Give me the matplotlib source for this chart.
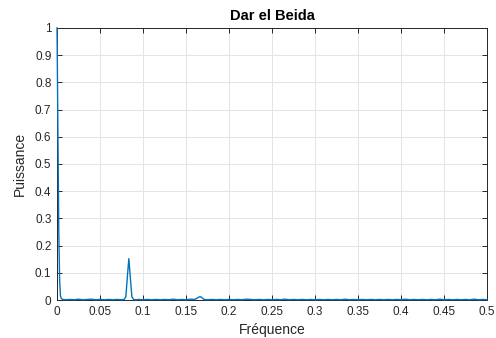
import matplotlib
matplotlib.use('Agg')
import matplotlib.pyplot as plt

# spectrum of the monthly series, frequency in cycles per sample
freq = [0, 0.001, 0.002, 0.003, 0.004, 0.005, 0.007, 0.01, 0.015, 0.02, 0.025, 0.03,
        0.035, 0.04, 0.045, 0.05, 0.055, 0.06, 0.065, 0.07, 0.075, 0.078, 0.080,
        0.082, 0.0835, 0.085, 0.087, 0.089, 0.092, 0.095, 0.1, 0.105, 0.11, 0.115,
        0.12, 0.125, 0.13, 0.135, 0.14, 0.145, 0.15, 0.155, 0.16, 0.1625, 0.165,
        0.167, 0.169, 0.171, 0.175, 0.18, 0.185, 0.19, 0.195, 0.2, 0.205, 0.21,
        0.215, 0.22, 0.225, 0.23, 0.235, 0.24, 0.245, 0.25, 0.255, 0.26, 0.265,
        0.27, 0.275, 0.28, 0.285, 0.29, 0.295, 0.3, 0.305, 0.31, 0.315, 0.32,
        0.325, 0.33, 0.335, 0.34, 0.345, 0.35, 0.355, 0.36, 0.365, 0.37, 0.375,
        0.38, 0.385, 0.39, 0.395, 0.4, 0.405, 0.41, 0.415, 0.42, 0.425, 0.43,
        0.435, 0.44, 0.445, 0.45, 0.455, 0.46, 0.465, 0.47, 0.475, 0.48, 0.485,
        0.49, 0.495, 0.5]
power = [1.0, 0.62, 0.26, 0.07, 0.015, 0.005, 0.002, 0.001, 0.002, 0.001, 0.003, 0.001,
         0.002, 0.003, 0.001, 0.002, 0.001, 0.002, 0.001, 0.002, 0.001, 0.002, 0.012,
         0.095, 0.152, 0.09, 0.012, 0.002, 0.001, 0.002, 0.001, 0.002, 0.001, 0.002,
         0.001, 0.002, 0.001, 0.003, 0.001, 0.002, 0.001, 0.003, 0.002, 0.006, 0.011,
         0.012, 0.007, 0.002, 0.001, 0.002, 0.001, 0.002, 0.001, 0.002, 0.001, 0.002,
         0.001, 0.003, 0.002, 0.001, 0.002, 0.001, 0.002, 0.001, 0.002, 0.001, 0.003,
         0.001, 0.002, 0.001, 0.002, 0.001, 0.002, 0.001, 0.002, 0.001, 0.002, 0.001,
         0.002, 0.001, 0.003, 0.001, 0.002, 0.001, 0.002, 0.001, 0.002, 0.001, 0.002,
         0.001, 0.002, 0.001, 0.002, 0.001, 0.003, 0.001, 0.002, 0.001, 0.002, 0.001,
         0.002, 0.001, 0.003, 0.001, 0.002, 0.001, 0.002, 0.001, 0.002, 0.001, 0.003,
         0.001, 0.002, 0.001]

xticks = [0, 0.05, 0.1, 0.15, 0.2, 0.25, 0.3, 0.35, 0.4, 0.45, 0.5]
xlabels = ['0', '0.05', '0.1', '0.15', '0.2', '0.25', '0.3', '0.35', '0.4', '0.45', '0.5']
yticks = [0, 0.1, 0.2, 0.3, 0.4, 0.5, 0.6, 0.7, 0.8, 0.9, 1]
ylabels = ['0', '0.1', '0.2', '0.3', '0.4', '0.5', '0.6', '0.7', '0.8', '0.9', '1']

plt.rcParams['font.family'] = ['Liberation Sans', 'DejaVu Sans']
dark = '#262626'

fig = plt.figure(figsize=(4.96, 3.38), dpi=100)
ax = fig.add_axes([0.115, 0.1124, 0.867, 0.805])
ax.plot(freq, power, color='#0072BD', linewidth=1.0, clip_on=False, zorder=3)

ax.set_xlim(0, 0.5)
ax.set_ylim(0, 1)
ax.set_xticks(xticks)
ax.set_xticklabels(xlabels)
ax.set_yticks(yticks)
ax.set_yticklabels(ylabels)
ax.grid(True, color='#e4e4e4', linewidth=0.7)
ax.set_axisbelow(True)
ax.tick_params(direction='in', length=3.5, width=0.7, top=True, right=True,
               labelsize=8.5, colors=dark, pad=4)
for s in ax.spines.values():
    s.set_color(dark)
    s.set_linewidth(0.7)

ax.set_title('Dar el Beida', fontsize=10.5, fontweight='bold', color='black', pad=6)
ax.set_xlabel('Fréquence', fontsize=10, color=dark, labelpad=4)
ax.set_ylabel('Puissance', fontsize=10, color=dark, labelpad=6)

fig.savefig('out.png', dpi=100)
